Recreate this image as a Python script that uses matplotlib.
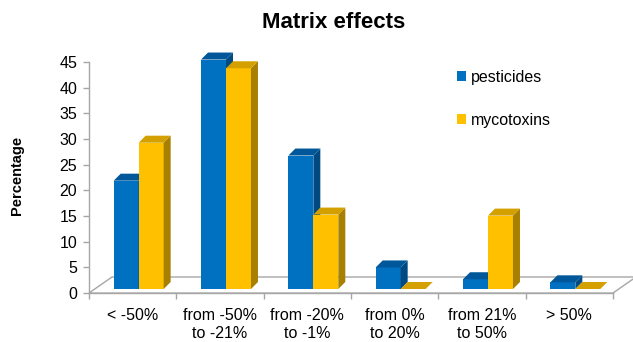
import matplotlib
matplotlib.use("Agg")
import matplotlib.pyplot as plt
from matplotlib.patches import Polygon, Patch
from matplotlib.transforms import IdentityTransform

plt.rcParams["font.family"] = ["Liberation Sans", "DejaVu Sans"]

categories = ["< -50%", "from -50%\nto -21%", "from -20%\nto -1%",
              "from 0%\nto 20%", "from 21%\nto 50%", "> 50%"]
pesticides = [21.1, 44.7, 26.0, 4.2, 1.9, 1.3]
mycotoxins = [28.5, 43.0, 14.5, 0.0, 14.3, 0.0]
series_names = ["pesticides", "mycotoxins"]
y_ticks = list(range(0, 50, 5))

# face colours per series: front, top, side
FRONT = ["#0070C0", "#FFC000"]
TOP = ["#00589A", "#D4A000"]
SIDE = ["#004A82", "#A88000"]
GRAY = "#A6A6A6"
FS = 11.5

# pseudo-3D offsets in pixels (right, up)
FLOOR_DEPTH = (23, 16)
BAR_SHIFT = (6, 4)
BAR_DEPTH = (7, 7)
BAR_W = 0.286

fig = plt.figure(figsize=(6.33, 3.42), dpi=100)
ax = fig.add_axes([89 / 633, 49 / 342, 524 / 633, 231 / 342])
ax.set_xlim(0, len(categories))
ax.set_ylim(0, 45)
ax.patch.set_alpha(0)

for side in ("top", "right"):
    ax.spines[side].set_visible(False)
for side in ("left", "bottom"):
    ax.spines[side].set_color(GRAY)
    ax.spines[side].set_linewidth(1)

ax.set_yticks(y_ticks)
ax.tick_params(axis="y", direction="out", length=4, width=1, color=GRAY,
               labelsize=FS, pad=4.5)
ax.set_xticks(range(len(categories) + 1))
ax.set_xticklabels([])
ax.set_xticks([i + 0.5 for i in range(len(categories))], minor=True)
ax.set_xticklabels(categories, minor=True)
ax.tick_params(axis="x", which="major", direction="out", length=4, width=1, color=GRAY)
ax.tick_params(axis="x", which="minor", length=0, labelsize=FS, pad=10.5)
for lab in ax.get_xticklabels(minor=True):
    lab.set_linespacing(1.3)


def px(x, y):
    return ax.transData.transform((x, y))


def face(points, color, z, edge="none", lw=0):
    fig.add_artist(Polygon(points, closed=True, facecolor=color, edgecolor=edge,
                           linewidth=lw, transform=IdentityTransform(), zorder=z))


# floor
fx, fy = FLOOR_DEPTH
(x0, y0), (x1, _) = px(0, 0), px(len(categories), 0)
face([(x0, y0), (x1, y0), (x1 + fx, y0 + fy), (x0 + fx, y0 + fy)],
     "white", 1, edge=GRAY, lw=1)


def bar3d(xpos, value, k, z):
    sx, sy = BAR_SHIFT
    dx, dy = BAR_DEPTH
    (xl, yb), (xr, yt) = px(xpos, 0), px(xpos + BAR_W, value)
    xl, xr, yb, yt = xl + sx, xr + sx, yb + sy, yt + sy
    if value > 0:
        face([(xl, yb), (xr, yb), (xr, yt), (xl, yt)], FRONT[k], z)
        face([(xr, yb), (xr + dx, yb + dy), (xr + dx, yt + dy), (xr, yt)], SIDE[k], z)
    face([(xl, yt), (xr, yt), (xr + dx, yt + dy), (xl + dx, yt + dy)], TOP[k], z)


z = 2
for i in range(len(categories)):
    for k, vals in enumerate([pesticides, mycotoxins]):
        bar3d(i + 0.5 - BAR_W + k * BAR_W, vals[i], k, z)
        z += 1

fig.text(334 / 633, 1 - 22 / 342, "Matrix effects", fontsize=16,
         fontweight="bold", ha="center", va="center")
fig.text(17 / 633, 1 - 175 / 342, "Percentage", fontsize=10.5, fontweight="bold",
         rotation=90, ha="center", va="center")

handles = [Patch(facecolor=FRONT[k], label=series_names[k]) for k in range(2)]
fig.legend(handles=handles, loc="upper left", bbox_to_anchor=(457 / 633, 1 - 70 / 342),
           frameon=False, fontsize=FS, handlelength=0.56, handleheight=0.56,
           handletextpad=0.3, labelspacing=1.75, borderpad=0, borderaxespad=0)

fig.savefig("out.png", dpi=100)
